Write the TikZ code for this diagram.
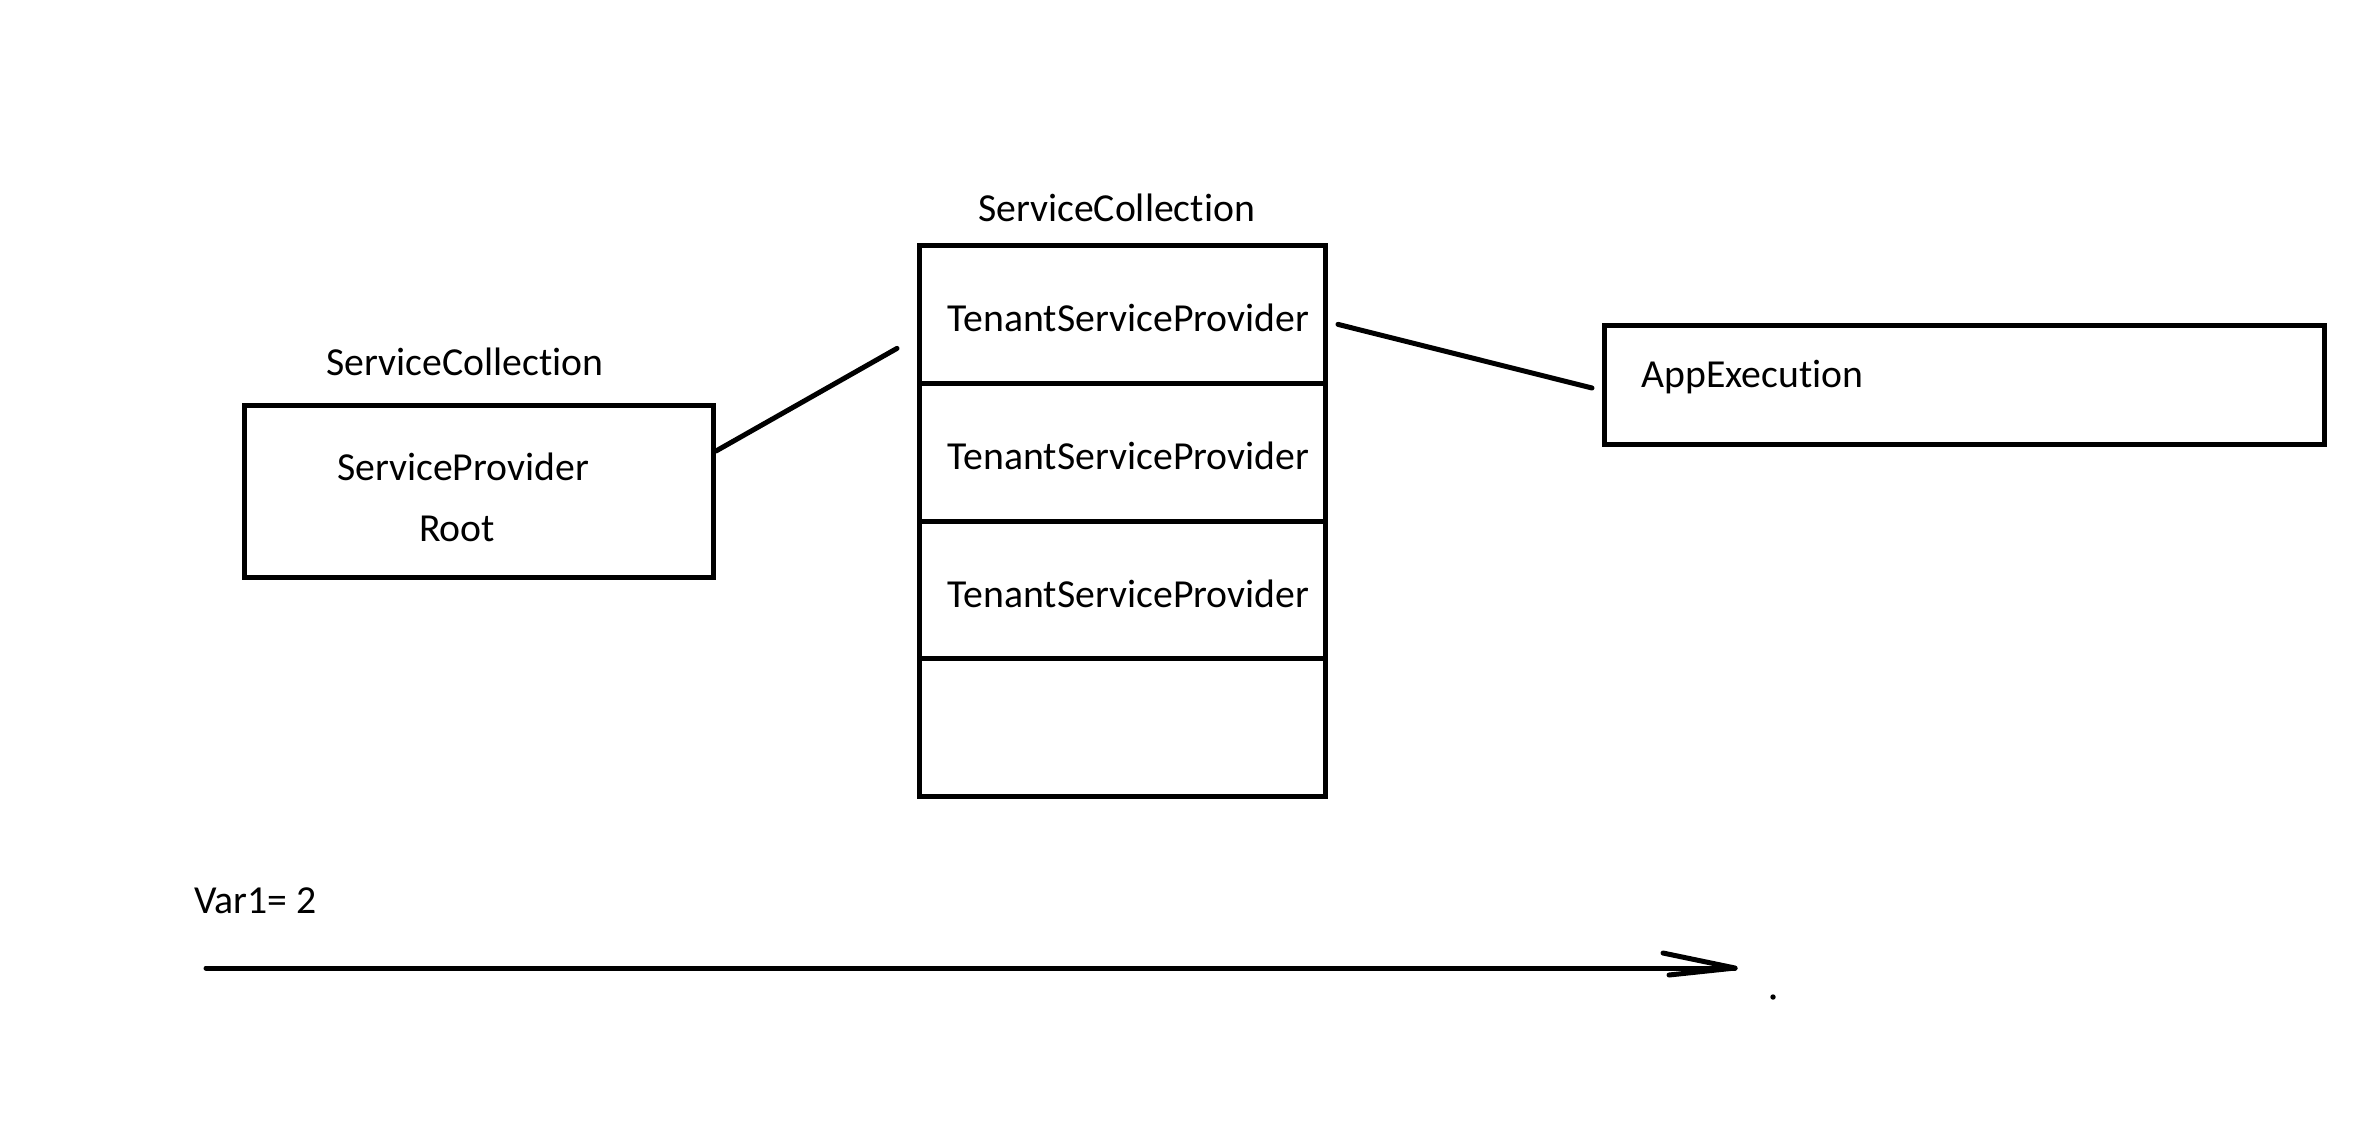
\documentclass[tikz,border=0pt]{standalone}
\usepackage{fontspec}
\setmainfont{Carlito}[Ligatures=NoCommon]
\usetikzlibrary{positioning}

\begin{document}
\begin{tikzpicture}[x=0.1mm, y=-0.1mm, line width=0.5mm,
    box/.style={draw, line width=0.5mm, outer sep=0pt, inner sep=0pt},
    cell/.style={box, minimum width=40.6mm, minimum height=13.775mm},
    txt/.style={anchor=base, inner sep=0pt, font=\fontsize{11.3}{13.6}\selectfont},
    link/.style={line width=0.5mm, line cap=round, line join=round}]
    \useasboundingbox (0,0) rectangle (2365,1124);

    % Root provider
    \node[box, minimum width=46.95mm, minimum height=17.2mm] (root) at (478.75,491) {};
    \node[txt] (rootcol) at (465,375) {ServiceCollection};
    \node[txt] (spname) at (463,480) {ServiceProvider};
    \node[txt] (rootname) at (457,541) {Root};

    % Tenant providers
    \node[cell] (cell1) at (1122.5,314.375) {};
    \node[cell, below=0pt of cell1] (cell2) {};
    \node[cell, below=0pt of cell2] (cell3) {};
    \node[cell, below=0pt of cell3] (cell4) {};
    \node[txt] (tencol) at (1116.5,221.5) {ServiceCollection};
    \foreach \i in {1,2,3}
        \node[txt] (tsp\i) at ([shift={(6,17.5)}]cell\i.center) {TenantServiceProvider};

    % App execution
    \node[box, minimum width=72.05mm, minimum height=11.9mm] (app) at (1964.25,384.5) {};
    \node[txt, anchor=base west] (appname) at (1639,387) {AppExecution};

    % Links
    \draw[link] ([shift={(2.5,-40)}]root.east) -- ([shift={(-22.5,34)}]cell1.west);
    \draw[link] ([shift={(12.5,10)}]cell1.east) -- ([shift={(-12,3.5)}]app.west);

    % Timeline
    \node[txt, anchor=base west] (var) at (192,913) {Var1= 2};
    \coordinate (tstart) at (206,968);
    \coordinate (tend) at (1735,968);
    \draw[link] (tstart) -- (tend);
    \draw[link] ([shift={(-72,-15)}]tend) -- (tend) -- ([shift={(-66,7)}]tend);
    \fill (1773,997) circle[radius=0.27mm];
\end{tikzpicture}
\end{document}
